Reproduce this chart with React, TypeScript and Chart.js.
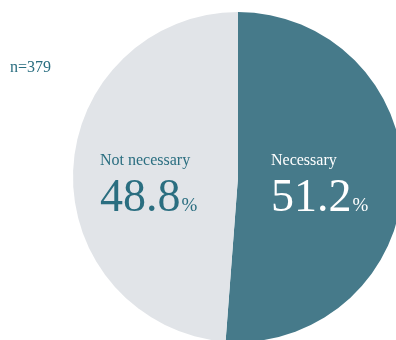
import React, { useEffect, useRef } from "react";
import { Chart, registerables } from "chart.js";

Chart.register(...registerables);

const categories = ["Necessary", "Not necessary"];
const values = [51.2, 48.8];
const sampleLabel = "n=379";

const sliceColors = ["#467a8a", "#e1e4e8"];
const textColors = ["#ffffff", "#2a6e80"];
const FONT = "'Liberation Serif', 'Times New Roman', serif";

const labelPlugin = {
  id: "pieLabels",
  afterDraw(chart: any) {
    const ctx = chart.ctx;
    const meta = chart.getDatasetMeta(0);
    const arc = meta.data[0];
    if (!arc) return;
    const cx = arc.x;
    const cy = arc.y;
    ctx.save();
    ctx.textBaseline = "alphabetic";
    ctx.textAlign = "left";
    // positions relative to pie center
    const spots = [
      { x: cx + 33, yl: cy - 12, yn: cy + 34 },
      { x: cx - 138, yl: cy - 12, yn: cy + 34 },
    ];
    categories.forEach((cat, i) => {
      const s = spots[i];
      ctx.fillStyle = textColors[i];
      ctx.font = `16px ${FONT}`;
      ctx.fillText(cat, s.x, s.yl);
      ctx.font = `46px ${FONT}`;
      const num = values[i].toFixed(1);
      ctx.fillText(num, s.x, s.yn);
      const w = ctx.measureText(num).width;
      ctx.font = `19px ${FONT}`;
      ctx.fillText("%", s.x + w + 1, s.yn);
    });
    ctx.fillStyle = "#2a6e80";
    ctx.font = `16px ${FONT}`;
    ctx.fillText(sampleLabel, 10 + 0, 72);
    ctx.restore();
  },
};

export default function App() {
  const ref = useRef<HTMLCanvasElement>(null);
  useEffect(() => {
    if (!ref.current) return;
    const chart = new Chart(ref.current, {
      type: "pie",
      data: {
        labels: categories,
        datasets: [
          {
            data: values,
            backgroundColor: sliceColors,
            borderWidth: 0,
          },
        ],
      },
      options: {
        responsive: false,
        animation: false,
        layout: { padding: { left: 73, top: 12, right: 17, bottom: 18 } },
        plugins: {
          legend: { display: false },
          tooltip: { enabled: false },
        },
      },
      plugins: [labelPlugin],
    });
    return () => chart.destroy();
  }, []);
  return (
    <div
      style={{
        position: "absolute",
        left: 0,
        top: 0,
        width: 396,
        height: 340,
        overflow: "hidden",
        background: "#fff",
      }}
    >
      <canvas ref={ref} width={420} height={360} style={{ display: "block" }} />
    </div>
  );
}
